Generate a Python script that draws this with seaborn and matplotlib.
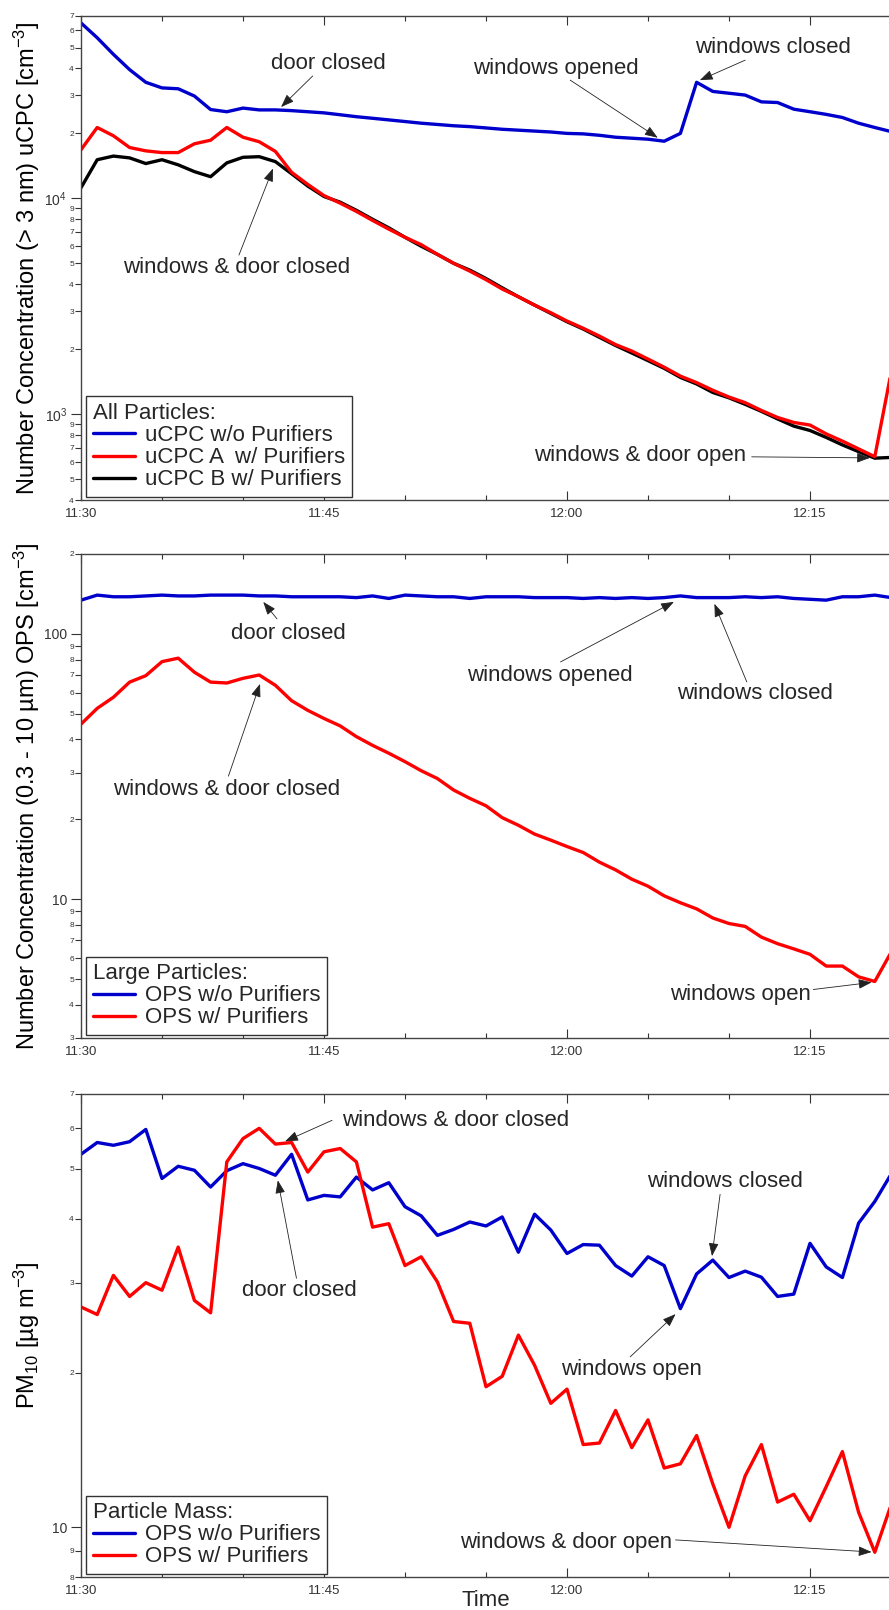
import numpy as np
import pandas as pd
import seaborn as sns
import matplotlib.pyplot as plt
from matplotlib.ticker import FixedLocator, FixedFormatter

sns.set_style("ticks")
plt.rcParams["font.family"] = ["Liberation Sans", "DejaVu Sans"]
plt.rcParams["mathtext.fontset"] = "custom"
plt.rcParams["mathtext.rm"] = "Liberation Sans"
plt.rcParams["mathtext.it"] = "Liberation Sans:italic"
plt.rcParams["mathtext.bf"] = "Liberation Sans:bold"

# minutes after 11:30, one sample per minute
minutes = np.arange(51)
time_ticks = [0, 15, 30, 45]
time_labels = ["11:30", "11:45", "12:00", "12:15"]
time_minor = [5, 10, 20, 25, 35, 40, 50]

# --- all particles (uCPC, cm-3)
ucpc_no_purifier = [65000, 55500, 46500, 39500, 34500, 32500, 32200, 29800, 25800, 25200,
                    26200, 25700, 25700, 25500, 25200, 24900, 24400, 23900, 23500, 23100,
                    22700, 22300, 22000, 21700, 21500, 21200, 20900, 20700, 20500, 20300,
                    20000, 19900, 19600, 19200, 19000, 18800, 18400, 20000, 34500, 31300,
                    30700, 30100, 28000, 27800, 25900, 25200, 24500, 23700, 22300, 21300, 20400]
ucpc_a_purifier = [16800, 21300, 19500, 17200, 16600, 16300, 16300, 17900, 18600, 21300,
                   19200, 18300, 16500, 13200, 11600, 10300, 9500, 8700, 7900, 7200,
                   6600, 6100, 5500, 5000, 4600, 4200, 3800, 3500, 3200, 2950,
                   2700, 2500, 2300, 2100, 1960, 1800, 1650, 1500, 1400, 1290,
                   1200, 1130, 1040, 965, 915, 890, 810, 750, 690, 635, 1550]
ucpc_b_purifier = [11200, 15100, 15700, 15400, 14500, 15100, 14300, 13300, 12600, 14600,
                   15500, 15600, 14800, 13000, 11400, 10200, 9600, 8800, 8000, 7300,
                   6600, 6000, 5500, 5000, 4650, 4250, 3850, 3500, 3200, 2930,
                   2680, 2480, 2270, 2080, 1920, 1770, 1630, 1480, 1380, 1260,
                   1190, 1110, 1030, 950, 880, 840, 780, 720, 670, 625, 630]

# --- large particles (OPS, cm-3)
ops_no_purifier = [134, 140, 138, 138, 139, 140, 139, 139, 140, 140,
                   140, 139, 139, 138, 138, 138, 138, 137, 139, 136,
                   140, 139, 138, 138, 136, 138, 138, 138, 137, 137,
                   137, 136, 137, 136, 137, 136, 137, 139, 137, 137,
                   137, 138, 137, 138, 136, 135, 134, 138, 138, 140, 137]
ops_purifier = [45.7, 52.4, 57.7, 65.8, 69.6, 78.6, 81, 71.7, 65.8, 65.3,
                68, 70, 64, 56, 51.5, 48, 45, 41, 38, 35.5,
                33, 30.5, 28.5, 25.8, 24, 22.5, 20.3, 19, 17.6, 16.7,
                15.8, 15, 13.8, 12.9, 11.9, 11.2, 10.3, 9.7, 9.2, 8.5,
                8.1, 7.9, 7.2, 6.8, 6.5, 6.2, 5.6, 5.6, 5.1, 4.9, 6.3]

# --- particle mass (PM10, ug m-3)
pm_no_purifier = [53.4, 56.3, 55.6, 56.5, 59.7, 47.9, 50.6, 49.7, 46.1, 49.6,
                  51.2, 50.1, 48.6, 53.4, 43.5, 44.4, 44.1, 48.2, 45.5, 47.0,
                  42.2, 40.5, 37.1, 38.1, 39.4, 38.7, 40.3, 34.4, 40.8, 38.0,
                  34.2, 35.6, 35.5, 32.4, 30.9, 33.7, 32.4, 26.7, 31.2, 33.2,
                  30.7, 31.6, 30.75, 28.2, 28.5, 35.8, 32.2, 30.7, 39.2, 43.2, 48.8]
pm_purifier = [26.9, 26.0, 31.0, 28.2, 30.0, 29.0, 35.2, 27.7, 26.2, 51.6,
               57.3, 60.0, 55.9, 56.3, 49.3, 54.0, 54.8, 51.6, 38.5, 39.1,
               32.4, 33.7, 30.1, 25.2, 25.0, 18.8, 19.7, 23.7, 20.7, 17.45,
               18.6, 14.5, 14.6, 16.9, 14.3, 16.2, 13.05, 13.3, 15.1, 12.15,
               10.0, 12.6, 14.5, 11.2, 11.6, 10.3, 12.0, 14.05, 10.7, 8.94, 11.05]

# y tick values / labels per panel
p1_major, p1_major_lab = [1e3, 1e4], ["$10^3$", "$10^4$"]
p1_minor = [400, 500, 600, 700, 800, 900, 2000, 3000, 4000, 5000, 6000, 7000, 8000, 9000,
            20000, 30000, 40000, 50000, 60000, 70000]
p1_minor_lab = ["4", "5", "6", "7", "8", "9", "2", "3", "4", "5", "6", "7", "8", "9",
                "2", "3", "4", "5", "6", "7"]
p2_major, p2_major_lab = [10, 100], ["10", "100"]
p2_minor = [3, 4, 5, 6, 7, 8, 9, 20, 30, 40, 50, 60, 70, 80, 90, 200]
p2_minor_lab = ["3", "4", "5", "6", "7", "8", "9", "2", "3", "4", "5", "6", "7", "8", "9", "2"]
p3_major, p3_major_lab = [10], ["10"]
p3_minor = [8, 9, 20, 30, 40, 50, 60, 70]
p3_minor_lab = ["8", "9", "2", "3", "4", "5", "6", "7"]

BLUE, RED, BLACK = "#0000CC", "#FF0000", "#000000"
INK = "#333333"

fig = plt.figure(figsize=(8.89, 16.10), dpi=100)
ax1 = fig.add_axes([81 / 889, 1110 / 1610, 810 / 889, 484 / 1610])
ax2 = fig.add_axes([81 / 889, 572 / 1610, 810 / 889, 484 / 1610])
ax3 = fig.add_axes([81 / 889, 33 / 1610, 810 / 889, 483 / 1610])


def draw(ax, series):
    for values, color, label, z in series:
        sns.lineplot(x=minutes, y=values, color=color, lw=2.4, label=label, ax=ax, zorder=z)


def style(ax, ylim, major, major_lab, minor, minor_lab, ylabel, title):
    ax.set_yscale("log")
    ax.set_xlim(0, 50)
    ax.set_ylim(*ylim)
    ax.xaxis.set_major_locator(FixedLocator(time_ticks))
    ax.xaxis.set_major_formatter(FixedFormatter(time_labels))
    ax.xaxis.set_minor_locator(FixedLocator(time_minor))
    ax.yaxis.set_major_locator(FixedLocator(major))
    ax.yaxis.set_major_formatter(FixedFormatter(major_lab))
    ax.yaxis.set_minor_locator(FixedLocator(minor))
    ax.yaxis.set_minor_formatter(FixedFormatter(minor_lab))
    ax.tick_params(axis="x", which="both", direction="in", top=True, bottom=True,
                   colors=INK, labelsize=9.5, pad=6, width=0.8)
    ax.tick_params(axis="x", which="major", length=6.5)
    ax.tick_params(axis="x", which="minor", length=3.6)
    ax.tick_params(axis="y", which="major", direction="out", length=7, width=0.8,
                   labelsize=10, pad=3, colors=INK)
    ax.tick_params(axis="y", which="minor", direction="out", length=4.3, width=0.8,
                   labelsize=6, pad=0.8, colors=INK)
    ax.spines["right"].set_visible(False)
    for s in ["left", "top", "bottom"]:
        ax.spines[s].set_color("#444444")
        ax.spines[s].set_linewidth(1.0)
    ax.set_xlabel("")
    ax.set_ylabel(ylabel, fontsize=17, color="black")
    ax.yaxis.set_label_coords(-0.048, 0.5)
    leg = ax.legend(title=title, loc="lower left", bbox_to_anchor=(0.006, 0.006),
                    borderaxespad=0, fontsize=16, title_fontsize=16, alignment="left",
                    frameon=True, fancybox=False, framealpha=1, edgecolor=INK,
                    handlelength=1.9, handletextpad=0.45, labelspacing=0.05, borderpad=0.3)
    leg.get_frame().set_linewidth(1.0)
    leg.set_zorder(10)


def note(ax, text, xytext, tail, tip):
    ax.text(*xytext, text, ha="center", va="center", fontsize=16)
    ax.annotate("", xy=tip, xytext=tail,
                arrowprops=dict(arrowstyle="-|>,head_length=0.8,head_width=0.3",
                                color="#222222", lw=0.6, shrinkA=0, shrinkB=0,
                                mutation_scale=10))


# panel 1 (red drawn above black, as in the original)
draw(ax1, [(ucpc_no_purifier, BLUE, "uCPC w/o Purifiers", 2.2),
           (ucpc_a_purifier, RED, "uCPC A  w/ Purifiers", 2.3),
           (ucpc_b_purifier, BLACK, "uCPC B w/ Purifiers", 2.1)])
style(ax1, (400, 70000), p1_major, p1_major_lab, p1_minor, p1_minor_lab,
      "Number Concentration (> 3 nm) uCPC [cm$^{-3}$]", "All Particles:")
note(ax1, "door closed", (15.3, 42000), (14.3, 36900), (12.35, 26500))
note(ax1, "windows opened", (29.3, 40150), (30.2, 35300), (35.6, 19100))
note(ax1, "windows closed", (42.7, 50150), (41.0, 43700), (38.2, 35300))
note(ax1, "windows & door closed", (9.6, 4760), (9.75, 5460), (11.85, 13750))
note(ax1, "windows & door open", (34.5, 640), (41.4, 634), (48.7, 627))

# panel 2
draw(ax2, [(ops_no_purifier, BLUE, "OPS w/o Purifiers", 2.2),
           (ops_purifier, RED, "OPS w/ Purifiers", 2.3)])
style(ax2, (3, 200), p2_major, p2_major_lab, p2_minor, p2_minor_lab,
      "Number Concentration (0.3 - 10 µm) OPS [cm$^{-3}$]", "Large Particles:")
note(ax2, "door closed", (12.8, 100), (12.1, 113.9), (11.25, 132))
note(ax2, "windows opened", (28.95, 69.4), (29.6, 78.4), (36.6, 132))
note(ax2, "windows closed", (41.6, 59.4), (41.1, 65.9), (39.1, 129.8))
note(ax2, "windows & door closed", (9.0, 26.0), (9.1, 29.1), (11.05, 64.8))
note(ax2, "windows open", (40.7, 4.38), (45.2, 4.57), (48.8, 4.86))

# panel 3
draw(ax3, [(pm_no_purifier, BLUE, "OPS w/o Purifiers", 2.2),
           (pm_purifier, RED, "OPS w/ Purifiers", 2.3)])
style(ax3, (8, 70), p3_major, p3_major_lab, p3_minor, p3_minor_lab,
      "PM$_{10}$ [µg m$^{-3}$]", "Particle Mass:")
note(ax3, "windows & door closed", (23.1, 62.2), (15.5, 62.2), (12.6, 56.6))
note(ax3, "door closed", (13.5, 29.0), (13.3, 30.6), (12.15, 47.5))
note(ax3, "windows closed", (39.75, 47.3), (39.45, 44.6), (38.95, 33.8))
note(ax3, "windows open", (34.0, 20.3), (33.9, 21.5), (36.7, 26.05))
note(ax3, "windows & door open", (29.95, 9.36), (36.7, 9.45), (48.8, 8.95))
ax3.set_xlabel("Time", fontsize=16)
ax3.xaxis.set_label_coords(0.5, -0.027)

fig.savefig("out.png", dpi=100)
